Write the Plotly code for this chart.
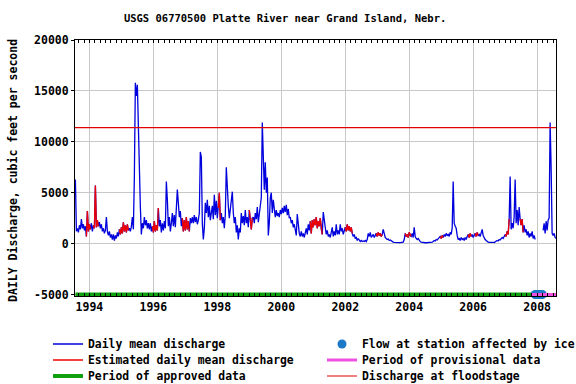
import plotly.graph_objects as go

TITLE = "USGS 06770500 Platte River near Grand Island, Nebr."
Y_LABEL = "DAILY Discharge, cubic feet per second"

START_YEAR = 1993.5625
STEP_YEARS = 1 / 32
FLOW = [
    6300, 1200, 1500, 1100, 1800, 1400, 2400, 1500, 1900, 1300, 1700, 700, 3200, 1200, 1900, 1400,
    2000, 1200, 1800, 1500, 5700, 1600, 2300, 1700, 2100, 1500, 1900, 1200, 1500, 1000, 1300, 2600,
    1200, 800, 1200, 600, 900, 400, 900, 300, 800, 500, 1100, 700, 1400, 900, 1600, 1000,
    2100, 1200, 1800, 1100, 1900, 1300, 1500, 1200, 1700, 2600, 1400, 6600, 15800, 14500, 15600, 10500,
    5100, 3600, 900, 2000, 1500, 2600, 1800, 2300, 1500, 2000, 1400, 2000, 1200, 1700, 1100, 2200,
    1200, 1800, 1300, 3500, 1700, 2300, 1100, 2000, 1300, 2200, 1500, 6100, 4300, 1700, 2600, 1200,
    2000, 3000, 1700, 2800, 1600, 3000, 5300, 4000, 2600, 3200, 1700, 2500, 1200, 2300, 1300, 2600,
    1400, 2200, 1200, 2500, 2000, 2600, 2000, 2800, 2100, 2600, 1900, 2300, 3000, 9000, 8500, 2000,
    400, 1500, 4000, 3000, 4300, 2600, 3700, 2300, 3200, 3700, 2400, 4800, 2800, 4200, 2500, 3500,
    5000, 2300, 3000, 2000, 2600, 1500, 2800, 7500, 4500, 3700, 2500, 3300, 4000, 5100, 3000, 2000,
    2600, 1100, 1800, 400, 1500, 1100, 3000, 2000, 2700, 1800, 3300, 2000, 2600, 1600, 3300, 2200,
    1400, 2500, 2600, 2000, 3000, 2400, 3600, 2100, 2800, 3400, 4500, 11900, 8000, 5300, 8000, 5000,
    6500, 800, 2000, 4500, 5000, 3000, 4300, 3000, 2600, 3300, 2700, 3000, 2600, 3300, 2900, 3500,
    3000, 3700, 3100, 3800, 2800, 3400, 2500, 2600, 2000, 2300, 1600, 1900, 1400, 800, 2900, 1500,
    1000, 700, 1200, 700, 1000, 600, 1100, 1500, 900, 1900, 1300, 2200, 1000, 2300, 1600, 2400,
    1800, 2600, 1500, 2200, 1700, 2500, 1400, 900, 3100, 2000, 1600, 900, 1300, 700, 900, 600,
    1100, 1600, 700, 1200, 800, 1900, 900, 1300, 900, 1900, 1200, 1500, 900, 1400, 1600, 1200,
    1900, 1300, 1700, 1200, 1600, 1000, 700, 900, 500, 600, 300, 500, 300, 200, 300, 200,
    250, 200, 300, 200, 400, 1000, 700, 1100, 600, 800, 900, 600, 800, 1000, 700, 1100,
    800, 1000, 700, 900, 1400, 800, 600, 500, 400, 450, 300, 350, 250, 200, 150, 120,
    100, 90, 80, 80, 90, 100, 100, 120, 150, 400, 1000, 700, 900, 600, 1100, 800,
    700, 1000, 600, 1600, 700, 500, 400, 500, 300, 200, 150, 120, 100, 90, 80, 80,
    80, 90, 100, 110, 130, 150, 200, 300, 250, 400, 350, 500, 600, 700, 500, 800,
    600, 900, 700, 1000, 800, 900, 700, 1100, 900, 1500, 6100, 2000, 1700, 1500, 800, 400,
    500, 300, 600, 400, 500, 300, 600, 400, 700, 900, 600, 1000, 700, 900, 600, 800,
    1000, 700, 1100, 800, 900, 700, 1000, 1400, 800, 500, 400, 300, 200, 150, 120, 100,
    100, 120, 110, 100, 150, 200, 300, 250, 400, 350, 500, 600, 500, 800, 900, 700,
    1200, 900, 2400, 6600, 1400, 2000, 1500, 2600, 6300, 2000, 3300, 1800, 3600, 2400, 1800, 2400,
    1100, 1800, 1100, 1400, 800, 1200, 600, 1000, 700, 1200, 500, 800, 400, None, None, None,
    None, None, None, None, 1300, 2000, 1000, 2200, 1300, 2300, 2500, 11900, 7500, 1000, 800, 1000,
    600, 500,
]

# Periods of estimated daily mean discharge (decimal years)
ESTIMATED_PERIODS = [
    (1993.906, 1994.031), (1994.125, 1994.281), (1994.938, 1995.219), (1995.969, 1996.156),
    (1996.906, 1997.125), (1998.031, 1998.094), (1999.000, 1999.094), (2000.906, 2001.281),
    (2002.000, 2002.219), (2002.969, 2003.156), (2003.875, 2004.063), (2004.969, 2005.063),
    (2005.844, 2005.938), (2006.063, 2006.156), (2007.000, 2007.125), (2007.469, 2007.563),
]

ICE_DATES = [2007.94, 2007.97, 2008.00, 2008.03, 2008.06, 2008.09, 2008.13, 2008.16]
APPROVED_PERIOD = [1993.5625, 2007.82]
PROVISIONAL_PERIOD = [2007.82, 2008.59]
PERIOD_LEVEL = -5000
FLOOD_STAGE = 11400
X_RANGE = [1993.55, 2008.59]
X_TICKS = [1994, 1996, 1998, 2000, 2002, 2004, 2006, 2008]
X_MINOR_TICKS = [1993 + m / 6 for m in range(4, 94)]  # every two months
Y_TICKS = [-5000, 0, 5000, 10000, 15000, 20000]

years = [START_YEAR + i * STEP_YEARS for i in range(len(FLOW))]


def is_estimated(t):
    return any(a - 0.005 <= t <= b + 0.005 for a, b in ESTIMATED_PERIODS)


est_flow = [v if (v is not None and is_estimated(t)) else None for t, v in zip(years, FLOW)]

FONT = "DejaVu Sans Mono"
BLUE = "#0000dd"
RED = "#ee0000"
GREEN = "#10a010"
PINK = "#f050e0"
ICE = "#1e78c8"
FLOOD = "#e00000"

fig = go.Figure()
fig.add_trace(go.Scatter(x=years, y=FLOW, mode="lines", name="Daily mean discharge",
                         line=dict(color=BLUE, width=1.3), connectgaps=False, legend="legend"))
fig.add_trace(go.Scatter(x=years, y=est_flow, mode="lines", name="Estimated daily mean discharge",
                         line=dict(color=RED, width=1.3), connectgaps=False, legend="legend2"))
fig.add_trace(go.Scatter(x=X_RANGE, y=[FLOOD_STAGE, FLOOD_STAGE], mode="lines",
                         name="Discharge at floodstage", line=dict(color=FLOOD, width=1.2),
                         legend="legend6"))
fig.add_trace(go.Scatter(x=APPROVED_PERIOD, y=[PERIOD_LEVEL] * 2, mode="lines",
                         name="Period of approved data", line=dict(color=GREEN, width=4),
                         legend="legend3"))
fig.add_trace(go.Scatter(x=ICE_DATES, y=[PERIOD_LEVEL] * len(ICE_DATES), mode="markers",
                         name="Flow at station affected by ice", cliponaxis=False,
                         marker=dict(color=ICE, size=9, symbol="circle"), legend="legend4"))
fig.add_trace(go.Scatter(x=PROVISIONAL_PERIOD, y=[PERIOD_LEVEL] * 2, mode="lines",
                         name="Period of provisional data", line=dict(color=PINK, width=3),
                         legend="legend5"))

legend_font = dict(family=FONT, size=11.4, color="black", weight="bold")


def leg(xpx, ypx):
    return dict(x=xpx / 576, y=1 - ypx / 384, xref="container", yref="container",
                xanchor="left", yanchor="middle", bgcolor="rgba(0,0,0,0)", borderwidth=0,
                font=legend_font, visible=True)


fig.update_layout(
    width=576, height=384,
    showlegend=True,
    margin=dict(l=75, r=20, t=40, b=88, autoexpand=False),
    paper_bgcolor="white", plot_bgcolor="white",
    title=dict(text=TITLE, x=0.495, xref="container", y=1 - 18 / 384, yref="container",
               xanchor="center", yanchor="middle", automargin=False,
               font=dict(family=FONT, size=10.5, color="black", weight="bold")),
    legend=leg(48, 344), legend2=leg(48, 360), legend3=leg(48, 376),
    legend4=leg(322, 344), legend5=leg(322, 360), legend6=leg(322, 376),
    xaxis=dict(range=X_RANGE, tickvals=X_TICKS, ticktext=[str(t) for t in X_TICKS],
               automargin=False,
               showgrid=True, gridcolor="#c8c8c8", gridwidth=1, zeroline=False,
               showline=True, linecolor="black", linewidth=1, mirror="ticks",
               ticks="inside", ticklen=3, tickcolor="black",
               minor=dict(tickvals=X_MINOR_TICKS, ticks="inside", ticklen=3,
                          tickcolor="black", showgrid=False),
               tickfont=dict(family=FONT, size=11.5, color="black", weight="bold")),
    yaxis=dict(range=[-5150, 20000], tickvals=Y_TICKS, ticktext=[str(t) for t in Y_TICKS],
               automargin=False,
               showgrid=True, gridcolor="#c8c8c8", gridwidth=1, zeroline=False,
               showline=True, linecolor="black", linewidth=1, mirror=True,
               ticks="outside", ticklen=3, tickcolor="black",
               tickfont=dict(family=FONT, size=11.5, color="black", weight="bold")),
    annotations=[dict(text=Y_LABEL, textangle=-90, xref="paper", yref="paper",
                      x=(13 - 75) / 481, y=(296 - 171) / 256, xanchor="center", yanchor="middle",
                      showarrow=False,
                      font=dict(family=FONT, size=11.5, color="black", weight="bold"))],
)

fig.write_html("out.html", config={"displayModeBar": False},
               post_script="document.body.style.margin='0';document.body.style.overflow='hidden';")
